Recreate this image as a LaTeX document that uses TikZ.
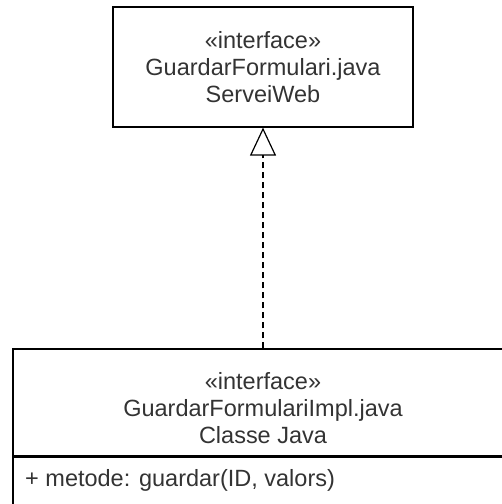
\documentclass[tikz,border=0pt]{standalone}
\usepackage{fontspec}
\setmainfont{Liberation Sans}
\usetikzlibrary{arrows.meta,positioning}
\definecolor{txtgray}{HTML}{333333}

\begin{document}
\begin{tikzpicture}[x=1pt,y=1pt]
\tikzstyle{every node}+=[text=txtgray,font=\fontsize{23.5}{27}\selectfont]
\tikzstyle{classbox}=[draw=black,line width=1.2pt,rectangle,minimum width=300pt,align=center,inner sep=0pt]
\tikzstyle{realize}=[line width=1.2pt,dash pattern=on 6pt off 4pt,-{Triangle[open,length=28pt,width=26pt]}]
\useasboundingbox (0,0) rectangle (502,-504);
\clip (0,0) rectangle (502,-504);
% interface
\node [classbox,minimum height=120pt] (servei) at (263,-67) {«interface»\\GuardarFormulari.java\\ServeiWeb};
% implementation class
\node [classbox,minimum width=500pt,minimum height=107pt] (impl) at (263,-402.5) {};
\node (impl text) at (263,-408) [align=center] {«interface»\\GuardarFormulariImpl.java\\Classe Java};
\node [classbox,minimum width=500pt,minimum height=70pt,below=0pt of impl,text width=476pt,align=left] (impl methods) {};
\node [anchor=west,inner sep=0pt] (metode) at (25,-480) {+ metode: guardar(ID, valors)};
\draw [realize] (impl.north) -- (servei.south);
\end{tikzpicture}
\end{document}
